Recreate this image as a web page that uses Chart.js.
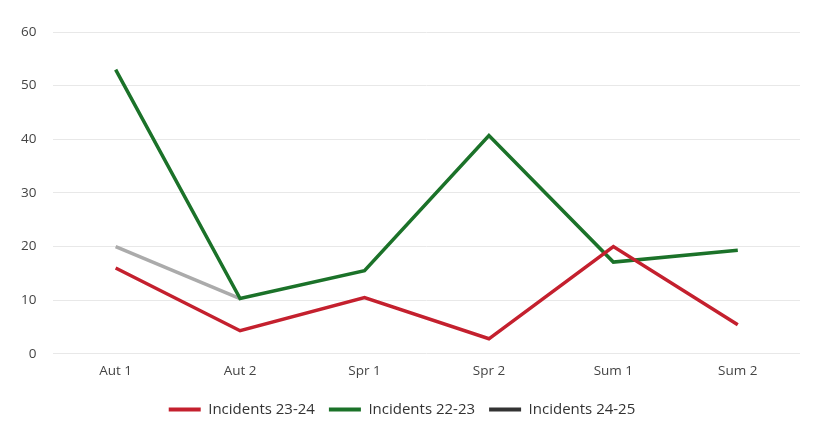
<!DOCTYPE html>
<html>
<head>
<meta charset="utf-8">
<script src="https://cdn.jsdelivr.net/npm/chart.js@4"></script>
<style>
  html, body { margin: 0; padding: 0; background: #ffffff; }
  #wrap { width: 818px; height: 427px; }
</style>
</head>
<body>
<div id="wrap"><canvas id="IncidentsGraph" width="818" height="427"></canvas></div>
<script>
// Half terms
const terms = ["Aut 1", "Aut 2", "Spr 1", "Spr 2", "Sum 1", "Sum 2"];

// Incidents per half term
const incidents2324 = [16, 4.3, 10.5, 2.8, 20, 5.4];
const incidents2223 = [53, 10.3, 15.5, 40.7, 17.1, 19.3];
const incidents2425 = [20, 10.3, null, null, null, null];

const seriesNames = ["Incidents 23-24", "Incidents 22-23", "Incidents 24-25"];

const lineColors = ['#c4202e', '#1b7229', '#ababab'];
const legendColors = ['#c4202e', '#1b7229', '#333333'];

const makeSet = (name, data, i) => ({
  label: name,
  data: data,
  borderColor: lineColors[i],
  backgroundColor: lineColors[i],
  borderWidth: 3.5,
  pointRadius: 0,
  tension: 0,
  spanGaps: false,
});

const ctx = document.getElementById("IncidentsGraph").getContext("2d");

new Chart(ctx, {
  type: 'line',
  data: {
    labels: terms,
    datasets: [
      makeSet(seriesNames[0], incidents2324, 0),
      makeSet(seriesNames[1], incidents2223, 1),
      makeSet(seriesNames[2], incidents2425, 2),
    ],
  },
  options: {
    responsive: false,
    animation: false,
    layout: { padding: { left: 4, right: 18, top: 32, bottom: 0 } },
    scales: {
      x: {
        offset: true,
        grid: { display: false, drawTicks: false },
        border: { display: false },
        ticks: { color: '#444', font: { family: 'Open Sans', size: 13.5 }, padding: 9 },
      },
      y: {
        min: 0,
        max: 60,
        ticks: { stepSize: 10, color: '#444', font: { family: 'Open Sans', size: 13.5 }, padding: 17 },
        grid: { color: '#e8e8e8', drawTicks: false },
        border: { display: false },
      },
    },
    plugins: {
      legend: {
        position: 'bottom',
        labels: {
          color: '#333',
          font: { family: 'Open Sans', size: 15 },
          boxWidth: 32,
          boxHeight: 4,
          padding: 14,
          generateLabels: (chart) => chart.data.datasets.map((ds, i) => ({
            text: ds.label,
            fillStyle: legendColors[i],
            strokeStyle: legendColors[i],
            lineWidth: 0,
            hidden: false,
            datasetIndex: i,
            fontColor: '#333',
          })),
        },
      },
      tooltip: { enabled: false },
    },
  },
});
</script>
</body>
</html>
